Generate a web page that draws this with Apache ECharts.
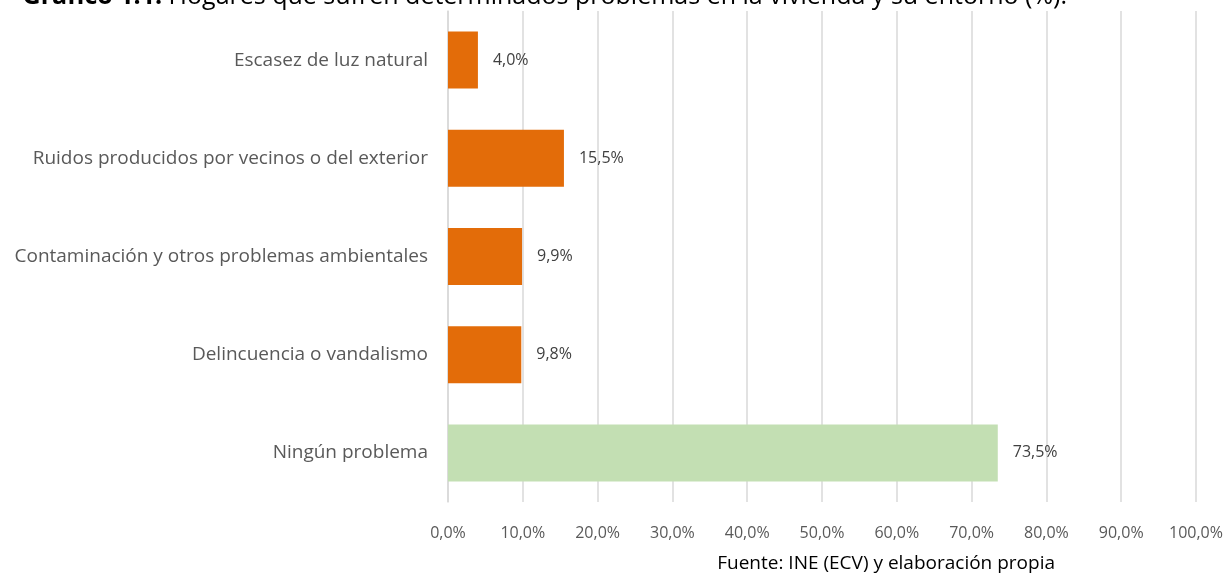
<!DOCTYPE html>
<html>
<head>
<meta charset="utf-8">
<script src="https://cdn.jsdelivr.net/npm/echarts@6/dist/echarts.min.js"></script>
<style>html,body{margin:0;padding:0;background:#fff}#c{width:1227px;height:573px}</style>
</head>
<body>
<div id="c"></div>
<script>
const categories = ['Escasez de luz natural','Ruidos producidos por vecinos o del exterior','Contaminación y otros problemas ambientales','Delincuencia o vandalismo','Ningún problema'];
const values = [4.0, 15.5, 9.9, 9.8, 73.5];
const barColors = ['#E36C09','#E36C09','#E36C09','#E36C09','#C3DFB3'];
const titleBold = 'Gráfico 1.1.';
const titleText = ' Hogares que sufren determinados problemas en la vivienda y su entorno (%).';
const sourceText = 'Fuente: INE (ECV) y elaboración propia';

const fmt = v => v.toFixed(1).replace('.', ',') + '%';
const chart = echarts.init(document.getElementById('c'), null, {renderer:'canvas'});
chart.setOption({
  animation: false,
  backgroundColor: '#fff',
  grid: {left: 448, right: 31, top: 11, bottom: 71, containLabel: false},
  xAxis: {
    type: 'value', min: 0, max: 100, interval: 10,
    axisLine: {show: false}, axisTick: {show: false},
    splitLine: {lineStyle: {color: '#d9d9d9', width: 1.5}},
    axisLabel: {formatter: v => v.toFixed(1).replace('.', ',') + '%', color: '#595959', fontSize: 16, margin: 23, fontFamily: 'Open Sans'}
  },
  yAxis: {
    type: 'category', data: categories, inverse: true,
    axisLine: {show: true, lineStyle: {color: '#d9d9d9', width: 1.5}},
    axisTick: {show: false},
    axisLabel: {color: '#595959', fontSize: 19, margin: 20, fontFamily: 'Open Sans'}
  },
  series: [{
    type: 'bar',
    data: values.map((v, i) => ({value: v, itemStyle: {color: barColors[i]}})),
    barWidth: 57,
    label: {show: true, position: 'right', distance: 15, formatter: p => fmt(p.value), color: '#404040', fontSize: 16, fontFamily: 'Open Sans'}
  }],
  graphic: [
    {type: 'text', right: 160, top: -16, style: {
      text: '{b|' + titleBold + '}{n|' + titleText + '}',
      rich: {b: {fontWeight: 'bold', fontSize: 25, fontFamily: 'Open Sans', fill: '#000'}, n: {fontSize: 25, fontFamily: 'Open Sans', fill: '#000'}}
    }},
    {type: 'text', right: 172, top: 554, style: {text: sourceText, fontSize: 19, fontFamily: 'Open Sans', fill: '#000'}}
  ]
});
</script>
</body>
</html>
